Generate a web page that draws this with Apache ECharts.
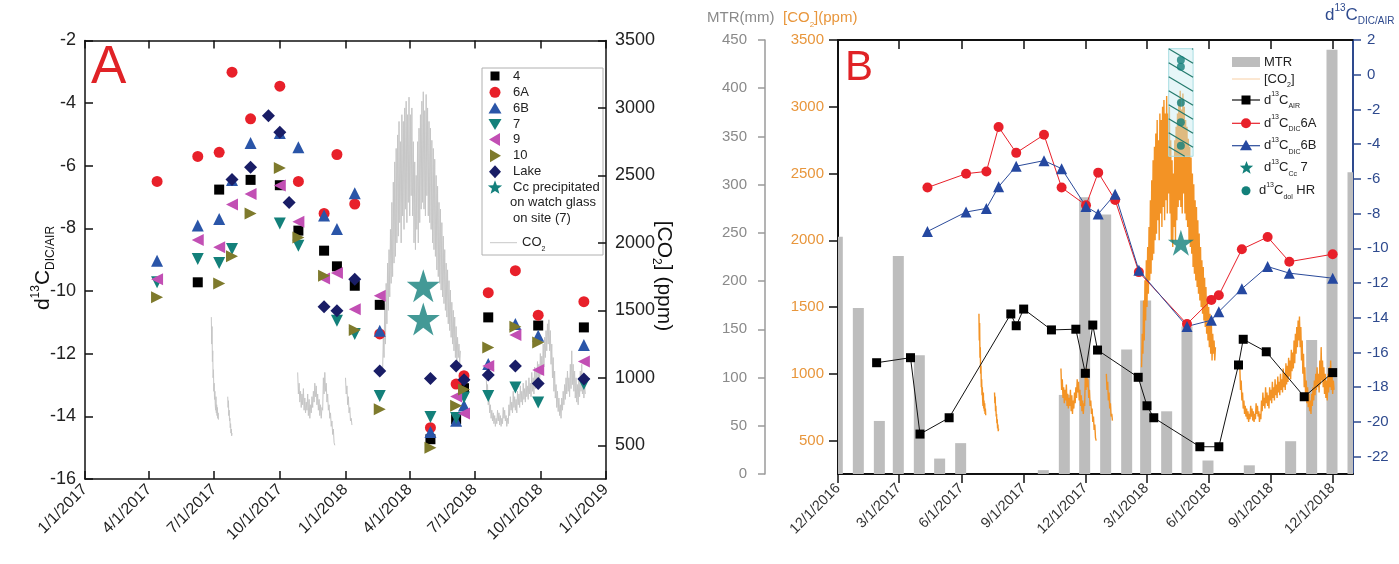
<!DOCTYPE html>
<html><head><meta charset="utf-8">
<script src="https://cdn.jsdelivr.net/npm/echarts@6/dist/echarts.min.js"></script>
<style>html,body{margin:0;padding:0;background:#fff}#c{width:1399px;height:564px}</style>
</head><body><div id="c"></div>
<script>
// ---------------- DATA ----------------
const ticksA = ['2017-01-01','2017-04-01','2017-07-01','2017-10-01','2018-01-01','2018-04-01','2018-07-01','2018-10-01','2019-01-01'];
const ticksB = ['2016-12-01','2017-03-01','2017-06-01','2017-09-01','2017-12-01','2018-03-01','2018-06-01','2018-09-01','2018-12-01'];
const ticksCO2 = [500,1000,1500,2000,2500,3000,3500];
const ticksD13B = [-22,-20,-18,-16,-14,-12,-10,-8,-6,-4,-2,0,2];

const sampleDates = ['2017-04-12','2017-06-08','2017-07-08','2017-07-26','2017-08-21','2017-09-15','2017-10-01','2017-10-14','2017-10-27','2017-12-02','2017-12-20','2018-01-14','2018-02-18','2018-04-30','2018-06-05','2018-06-16','2018-07-20','2018-08-27','2018-09-28','2018-12-01'];
const site4   = [null,-9.72,-6.76,null,-6.45,null,-6.62,null,-8.07,-8.71,-9.21,-9.83,-10.44,-14.73,-14.09,-13.1,-10.84,null,-11.1,-11.16];
const site6A  = [-6.5,-5.7,-5.57,-3.01,-4.5,null,-3.46,null,-6.5,-7.52,-5.64,-7.22,-11.37,-14.36,-12.97,-12.7,-10.05,-9.35,-10.77,-10.34];
const site6B  = [-9.03,-7.91,-7.7,-6.45,-5.27,null,-4.95,null,-5.41,-7.59,-8.02,-6.88,-11.27,-14.5,-14.14,-13.65,-12.33,-11.05,-11.43,-11.72];
const site7   = [-9.72,-8.98,-9.1,-8.66,null,null,-7.84,null,-8.55,null,-10.95,-11.37,-13.35,-14.02,-14.05,-13.4,-13.35,-13.08,-13.56,-12.97];
const site9   = [-9.62,-8.37,-8.6,-7.24,-6.9,null,-6.63,null,-7.79,-9.6,-9.42,-10.58,-10.15,null,-13.37,-13.91,-12.39,-11.4,-12.52,-12.25];
const site10  = [-10.2,null,-9.76,-8.89,-7.52,null,-6.07,null,-8.29,-9.51,null,-11.24,-13.77,-15.0,-13.66,-13.14,-11.8,-11.14,-11.64,null];
const siteLake= [null,null,null,-6.44,-6.05,-4.4,-4.93,-7.17,null,-10.5,-10.63,-9.62,-12.55,-12.79,-12.39,-12.83,-12.68,-12.39,-12.95,-12.81];
const ccStarDatesA = ['2018-04-20','2018-04-20'];
const ccStarA = [-9.83,-10.89];

const airDates = ['2017-01-27','2017-03-18','2017-04-01','2017-05-14','2017-08-13','2017-08-21','2017-09-01','2017-10-12','2017-11-17','2017-12-01','2017-12-12','2017-12-19','2018-02-17','2018-03-02','2018-03-12','2018-05-19','2018-06-16','2018-07-15','2018-07-22','2018-08-25','2018-10-20','2018-12-01'];
const airVals  = [-16.59,-16.3,-20.7,-19.76,-13.78,-14.46,-13.5,-14.7,-14.66,-17.2,-14.42,-15.86,-17.43,-19.07,-19.76,-21.43,-21.43,-16.72,-15.24,-15.96,-18.55,-17.16];
const mtrDates = ['2016-11-30','2016-12-31','2017-01-31','2017-02-28','2017-03-31','2017-04-30','2017-05-31','2017-06-30','2017-07-31','2017-08-31','2017-09-30','2017-10-31','2017-11-30','2017-12-31','2018-01-31','2018-02-28','2018-03-31','2018-04-30','2018-05-31','2018-06-30','2018-07-31','2018-08-31','2018-09-30','2018-10-31','2018-11-30','2018-12-31'];
const mtrVals  = [246,172,55,226,123,16,32,0,0,0,4,82,287,269,129,180,65,153,14,0,9,0,34,139,440,313];
const ccStarDatesB = ['2018-04-21'];
const ccStarB = [-9.68];
const dolDates = ['2018-04-21','2018-04-21','2018-04-21','2018-04-21','2018-04-21'];
const dolVals  = [0.85,0.46,-1.61,-2.74,-4.09];
const dolRangeDates = ['2018-04-03','2018-05-09'];
const dolRangeVals  = [1.5,-4.7];

const co2S1Start = '2017-06-27', co2S1Step = 12;
const co2S1 = [1450,1250,1380,1120,1200,1000,1060,900,960,840,900,800,760,860,740,800,720,780,700,740,690];
const co2S2Start = '2017-07-20', co2S2Step = 12;
const co2S2 = [860,780,830,720,760,680,700,630,660,590,620,570,590];
const co2S3Start = '2017-10-26', co2S3Step = 24;
const co2S3 = [1040,880,960,820,900,780,880,800,920,760,850,740,820,760,880,720,840,700,800,740,860,780,900,820,960,860,940,800,880,760,840,720,800,700,780,760,1000,880,1040,900,960,820,880,760,800,700,740,640,680,580,620,520,500];
const co2S4Start = '2018-01-01', co2S4Step = 24;
const co2S4 = [1000,880,940,800,860,740,780,680,700,650];
const co2S5Start = '2018-02-22', co2S5Step = 24;
const co2S5 = [1050,1300,1150,1550,1250,1700,1400,1850,1500,1950,
 1600,2100,1700,2300,1750,2450,1850,2600,1900,2700,
 2000,2800,2050,2900,2150,2750,2000,2950,2200,2900,
 2100,3000,2250,3050,2150,2950,2300,3080,2200,2950,
 2350,3000,2200,2750,2000,2600,1950,2500,2100,2750,
 2000,2850,2150,2950,2250,3050,2300,3120,2250,2980,
 2200,3100,2350,3000,2200,2900,2150,2850,2100,2760,
 2000,2700,1950,2620,1900,2500,1800,2420,1750,2300,
 1700,2250,1650,2150,1600,2050,1550,1950,1500,1850,
 1450,1800,1400,1720,1350,1650,1300,1560,1250,1500,
 1200,1450,1150,1380,1100,1300,1150,1250,1100,1200];
const co2S6Start = '2018-07-17', co2S6Step = 24;
const co2S6 = [1050,880,950,800,860,740,800,700,760,680,
 740,660,720,640,700,660,760,680,740,650,
 720,640,700,660,780,700,760,680,720,640,
 700,660,800,720,860,760,820,740,900,780,
 860,760,840,740,900,800,880,780,940,820,
 900,800,960,840,920,820,980,860,940,840,
 1000,880,960,860,1040,900,1000,880,1080,920,
 1060,940,1120,980,1100,960,1180,1020,1160,1040,
 1250,1080,1300,1150,1350,1200,1400,1250,1430,1200,
 1350,1100,1250,1000,1150,900,1050,850,950,780,
 900,750,850,720,800,700,850,760,900,800,
 950,840,1000,880,1050,900,1000,860,1100,920,
 1200,950,1100,900,1050,850,1000,820,950,800,
 1000,860,1050,900,1100,880,1000,850,950,880];

// ---------------- HELPERS ----------------
const FONT = '"Liberation Sans", Arial, sans-serif';
function T(s){const p=s.split('-').map(Number);return Date.UTC(p[0],p[1]-1,p[2]);}
function fmt(t){const d=new Date(t);return (d.getUTCMonth()+1)+'/'+d.getUTCDate()+'/'+d.getUTCFullYear();}
function pairs(dates, vals){const out=[];dates.forEach((d,i)=>{if(vals[i]!=null)out.push([T(d),vals[i]]);});return out;}
function seg(start, stepH, vals){const t0=T(start);return vals.map((v,i)=>[t0+i*stepH*3600000,v]);}
const co2Segs = [[co2S1Start,co2S1Step,co2S1],[co2S2Start,co2S2Step,co2S2],[co2S3Start,co2S3Step,co2S3],[co2S4Start,co2S4Step,co2S4],[co2S5Start,co2S5Step,co2S5],[co2S6Start,co2S6Step,co2S6]];
const STAR = 'path://M50,0 L61.2,34.5 L97.6,34.5 L68.2,55.9 L79.4,90.5 L50,69.1 L20.6,90.5 L31.8,55.9 L2.4,34.5 L38.8,34.5 Z';
function starPts(cx,cy,R){const pts=[];for(let i=0;i<10;i++){const r=i%2?R*0.42:R;const a=-Math.PI/2+i*Math.PI/5;pts.push([cx+r*Math.cos(a),cy+r*Math.sin(a)]);}return pts;}

const tA = ticksA.map(T), tB = ticksB.map(T);
const C = echarts.init(document.getElementById('c'));

const series = [];
co2Segs.forEach(s=>series.push({type:'line',xAxisIndex:0,yAxisIndex:1,data:seg(s[0],s[1],s[2]),showSymbol:false,silent:true,lineStyle:{color:'#c6c6c6',width:1},z:1}));
const sA = [
  ['4',site4,'rect',10,0,'#000000'],
  ['6A',site6A,'circle',11,0,'#e8202a'],
  ['6B',site6B,'triangle',12,0,'#2a55a8'],
  ['7',site7,'triangle',12,180,'#13807a'],
  ['9',site9,'triangle',12,90,'#c24fb4'],
  ['10',site10,'triangle',12,-90,'#7e7a2c'],
  ['Lake',siteLake,'diamond',13,0,'#191d66']
];
sA.forEach(s=>series.push({type:'scatter',name:s[0],xAxisIndex:0,yAxisIndex:0,data:pairs(sampleDates,s[1]),symbol:s[2],symbolSize:s[3],symbolRotate:s[4],itemStyle:{color:s[5],opacity:1},z:3}));
series.push({type:'scatter',xAxisIndex:0,yAxisIndex:0,data:pairs(ccStarDatesA,ccStarA),symbol:STAR,symbolSize:33,itemStyle:{color:'#14807c'},z:3});

series.push({type:'custom',xAxisIndex:2,yAxisIndex:2,z:1,silent:true,data:pairs(mtrDates,mtrVals),
  renderItem:function(params,api){
    const top=api.coord([api.value(0),api.value(1)]), base=api.coord([api.value(0),0]);
    const cs=params.coordSys;
    const x0=Math.max(top[0]-5.5,cs.x), x1=Math.min(top[0]+5.5,cs.x+cs.width);
    if(x1<=x0||base[1]-top[1]<=0) return null;
    return {type:'rect',shape:{x:x0,y:top[1],width:x1-x0,height:base[1]-top[1]},style:{fill:'#bdbdbd'}};
  }});
co2Segs.forEach(s=>series.push({type:'line',xAxisIndex:2,yAxisIndex:3,data:seg(s[0],s[1],s[2]),showSymbol:false,silent:true,lineStyle:{color:'#f39325',width:1.4},z:2}));
series.push({type:'custom',xAxisIndex:2,yAxisIndex:4,z:3,silent:true,
  data:[[T(dolRangeDates[0]),dolRangeVals[0],T(dolRangeDates[1]),dolRangeVals[1]]],
  renderItem:function(params,api){
    const p1=api.coord([api.value(0),api.value(1)]), p2=api.coord([api.value(2),api.value(3)]);
    const x0=p1[0],y0=p1[1],x1=p2[0],y1=p2[1],w=x1-x0,h=y1-y0;
    const ch=[{type:'rect',shape:{x:x0,y:y0,width:w,height:h},style:{fill:'rgba(200,236,240,0.45)',stroke:'#a9dde2',lineWidth:1}}];
    const slope=0.6, sp=14;
    for(let k=-Math.ceil(slope*w/sp)-1;k<=Math.ceil(h/sp)+1;k++){
      let ya=y0+k*sp, xa=x0, xb=x1, yb=ya+slope*w;
      if(ya<y0){xa=x0+(y0-ya)/slope;ya=y0;}
      if(yb>y1){xb=x0+(y1-(y0+k*sp))/slope;yb=y1;}
      if(xa>=xb||ya>y1||yb<y0)continue;
      ch.push({type:'line',shape:{x1:xa,y1:ya,x2:xb,y2:yb},style:{stroke:'#237a6c',lineWidth:1.2}});
    }
    return {type:'group',children:ch};
  }});
series.push({type:'line',xAxisIndex:2,yAxisIndex:4,data:pairs(airDates,airVals),symbol:'rect',symbolSize:9,lineStyle:{color:'#111',width:1},itemStyle:{color:'#000'},z:4});
series.push({type:'line',xAxisIndex:2,yAxisIndex:4,data:pairs(sampleDates,site6A),symbol:'circle',symbolSize:10,lineStyle:{color:'#e8202a',width:1},itemStyle:{color:'#e8202a'},z:4});
series.push({type:'line',xAxisIndex:2,yAxisIndex:4,data:pairs(sampleDates,site6B),symbol:'triangle',symbolSize:11,lineStyle:{color:'#2a4a9a',width:1},itemStyle:{color:'#2548a0'},z:4});
series.push({type:'scatter',xAxisIndex:2,yAxisIndex:4,data:pairs(ccStarDatesB,ccStarB),symbol:STAR,symbolSize:26,itemStyle:{color:'#13807a'},z:5});
series.push({type:'scatter',xAxisIndex:2,yAxisIndex:4,data:pairs(dolDates,dolVals),symbol:'circle',symbolSize:8,itemStyle:{color:'#13807a'},z:5});

const blk='#111';
const axLine=(c,w)=>({show:true,onZero:false,lineStyle:{color:c,width:w||1.5}});
const plain=v=>String(v);
const option = {
  animation:false,
  backgroundColor:'#fff',
  textStyle:{fontFamily:FONT},
  grid:[{left:85,top:40.5,width:521,height:438.5},{left:838,top:40,width:515,height:434}],
  xAxis:[
    {type:'value',gridIndex:0,min:T('2017-01-01'),max:T('2019-01-01'),position:'bottom',splitLine:{show:false},axisLine:axLine(blk),
     axisTick:{inside:true,length:8,lineStyle:{color:blk,width:1.5},customValues:tA},
     axisLabel:{rotate:45,fontSize:16,color:'#222',margin:8,customValues:tA,formatter:v=>fmt(v)}},
    {type:'value',gridIndex:0,min:T('2017-01-01'),max:T('2019-01-01'),position:'top',splitLine:{show:false},axisLine:axLine(blk),
     axisTick:{inside:true,length:8,lineStyle:{color:blk,width:1.5},customValues:tA},axisLabel:{show:false}},
    {type:'value',gridIndex:1,min:T('2016-12-01'),max:T('2018-12-31'),position:'bottom',splitLine:{show:false},axisLine:axLine(blk,2),
     axisTick:{inside:false,length:9,lineStyle:{color:blk,width:1.5},customValues:tB},
     axisLabel:{rotate:45,fontSize:14.5,color:'#333',margin:12,customValues:tB,formatter:v=>fmt(v)}},
    {type:'value',gridIndex:1,min:T('2016-12-01'),max:T('2018-12-31'),position:'top',splitLine:{show:false},axisLine:axLine(blk,2),
     axisTick:{inside:true,length:9,lineStyle:{color:blk,width:1.5},customValues:tB},axisLabel:{show:false}}
  ],
  yAxis:[
    {type:'value',gridIndex:0,min:-16,max:-2,interval:2,position:'left',splitLine:{show:false},axisLine:axLine(blk),
     axisTick:{inside:true,length:8,lineStyle:{color:blk,width:1.5}},axisLabel:{fontSize:18,color:'#222',margin:9,formatter:plain}},
    {type:'value',gridIndex:0,min:250,max:3500,position:'right',splitLine:{show:false},axisLine:axLine(blk),
     axisTick:{inside:true,length:8,lineStyle:{color:blk,width:1.5},customValues:ticksCO2},axisLabel:{fontSize:18,color:'#222',margin:9,customValues:ticksCO2,formatter:plain}},
    {type:'value',gridIndex:1,min:0,max:450,interval:50,position:'left',offset:73,splitLine:{show:false},axisLine:axLine('#9a9a9a'),
     axisTick:{inside:false,length:7,lineStyle:{color:'#9a9a9a',width:1.5}},axisLabel:{fontSize:15,color:'#8a8a8a',margin:18,formatter:plain}},
    {type:'value',gridIndex:1,min:250,max:3500,position:'left',offset:0,splitLine:{show:false},axisLine:axLine(blk,2),
     axisTick:{inside:false,length:9,lineStyle:{color:blk,width:1.5},customValues:ticksCO2},axisLabel:{fontSize:15,color:'#e8963c',margin:14,customValues:ticksCO2,formatter:plain}},
    {type:'value',gridIndex:1,min:-23,max:2,position:'right',splitLine:{show:false},axisLine:axLine('#2e4a8e',2),
     axisTick:{inside:false,length:8,lineStyle:{color:'#2e4a8e',width:1.5},customValues:ticksD13B},axisLabel:{fontSize:15,color:'#2e4a8e',margin:14,customValues:ticksD13B,formatter:plain}}
  ],
  series:series,
  graphic:[]
};

const g = option.graphic;
const txt=(x,y,text,opt)=>({type:'text',x:x,y:y,silent:true,style:Object.assign({text:text,fontFamily:FONT,fontSize:13,fill:'#222',align:'left',verticalAlign:'middle'},opt||{})});
g.push(txt(91,68,'A',{fontSize:53,fill:'#e02226'}));
g.push(txt(845,68,'B',{fontSize:42,fill:'#e02226'}));
const richD = (fs,col,sr)=>{const s=Math.round(fs*(sr||0.55));return {n:{fontSize:fs,fill:col,fontFamily:FONT,lineHeight:fs+6,verticalAlign:'middle'},sup:{fontSize:s,fill:col,fontFamily:FONT,verticalAlign:'top',lineHeight:s},sub:{fontSize:s,fill:col,fontFamily:FONT,verticalAlign:'bottom',lineHeight:s}};};
g.push({type:'text',x:43,y:268,rotation:Math.PI/2,silent:true,style:{text:'{n|d}{sup|13}{n|C}{sub|DIC/AIR}',rich:richD(21,'#111'),align:'center',verticalAlign:'middle'}});
g.push({type:'text',x:664,y:276,rotation:-Math.PI/2,silent:true,style:{text:'{n|[CO}{sub|2}{n|] (ppm)}',rich:richD(21,'#111'),align:'center',verticalAlign:'middle'}});
g.push(txt(707,18,'MTR(mm)',{fontSize:15,fill:'#8a8a8a'}));
g.push({type:'text',x:783,y:18,silent:true,style:{text:'{n|[CO}{sub|2}{n|](ppm)}',rich:richD(15,'#e8963c'),align:'left',verticalAlign:'middle'}});
g.push({type:'text',x:1325,y:15,silent:true,style:{text:'{n|d}{sup|13}{n|C}{sub|DIC/AIR}',rich:richD(17,'#2e4a8e',0.6),align:'left',verticalAlign:'middle'}});

// Panel A legend
g.push({type:'rect',silent:true,shape:{x:482,y:68,width:121,height:187},style:{fill:'#fff',stroke:'#b0b0b0',lineWidth:1}});
const lx=495, ltx=513;
const ly=[76,92.3,108.5,124,139.5,155.8,171.7,187.3];
g.push({type:'rect',silent:true,shape:{x:lx-4.5,y:ly[0]-4.5,width:9,height:9},style:{fill:'#000'}});
g.push({type:'circle',silent:true,shape:{cx:lx,cy:ly[1],r:5.5},style:{fill:'#e8202a'}});
g.push({type:'polygon',silent:true,shape:{points:[[lx,ly[2]-6],[lx+6.5,ly[2]+5],[lx-6.5,ly[2]+5]]},style:{fill:'#2a55a8'}});
g.push({type:'polygon',silent:true,shape:{points:[[lx-6.5,ly[3]-5],[lx+6.5,ly[3]-5],[lx,ly[3]+6]]},style:{fill:'#13807a'}});
g.push({type:'polygon',silent:true,shape:{points:[[lx-6,ly[4]],[lx+5,ly[4]-6.5],[lx+5,ly[4]+6.5]]},style:{fill:'#c24fb4'}});
g.push({type:'polygon',silent:true,shape:{points:[[lx+6,ly[5]],[lx-5,ly[5]-6.5],[lx-5,ly[5]+6.5]]},style:{fill:'#7e7a2c'}});
g.push({type:'polygon',silent:true,shape:{points:[[lx,ly[6]-6.5],[lx+6,ly[6]],[lx,ly[6]+6.5],[lx-6,ly[6]]]},style:{fill:'#191d66'}});
g.push({type:'polygon',silent:true,shape:{points:starPts(lx,ly[7]+0.5,7.5)},style:{fill:'#14807c'}});
['4','6A','6B','7','9','10','Lake','Cc precipitated'].forEach((t,i)=>g.push(txt(ltx,ly[i],t,{fontSize:13})));
g.push(txt(510,202.7,'on watch glass',{fontSize:13}));
g.push(txt(513,218.3,'on site (7)',{fontSize:13}));
g.push({type:'line',silent:true,shape:{x1:490,y1:242.7,x2:517,y2:242.7},style:{stroke:'#c8c8c8',lineWidth:1}});
g.push({type:'text',x:522,y:242.7,silent:true,style:{text:'{n|CO}{sub|2}',rich:richD(13,'#222'),align:'left',verticalAlign:'middle'}});

// Panel B legend
const bx1=1232,bx2=1260,bxm=1246,btx=1264;
g.push({type:'rect',silent:true,shape:{x:bx1,y:57,width:28,height:10},style:{fill:'#bdbdbd'}});
g.push(txt(btx,62,'MTR',{fontSize:13}));
g.push({type:'line',silent:true,shape:{x1:bx1,y1:79,x2:bx2,y2:79},style:{stroke:'#f8cfa4',lineWidth:1}});
g.push({type:'text',x:btx,y:79,silent:true,style:{text:'{n|[CO}{sub|2}{n|]}',rich:richD(13,'#222'),align:'left',verticalAlign:'middle'}});
const bl=[[100,'#111','AIR',''],[123.3,'#e8202a','DIC','6A'],[145.7,'#2a4a9a','DIC','6B']];
bl.forEach(b=>{
  g.push({type:'line',silent:true,shape:{x1:bx1,y1:b[0],x2:bx2,y2:b[0]},style:{stroke:b[1],lineWidth:1.2}});
  g.push({type:'text',x:btx,y:b[0],silent:true,style:{text:'{n|d}{sup|13}{n|C}{sub|'+b[2]+'}'+(b[3]?'{n|'+b[3]+'}':''),rich:richD(13,'#222'),align:'left',verticalAlign:'middle'}});
});
g.push({type:'rect',silent:true,shape:{x:bxm-4.5,y:100-4.5,width:9,height:9},style:{fill:'#000'}});
g.push({type:'circle',silent:true,shape:{cx:bxm,cy:123.3,r:5},style:{fill:'#e8202a'}});
g.push({type:'polygon',silent:true,shape:{points:[[bxm,145.7-6],[bxm+6,145.7+4.5],[bxm-6,145.7+4.5]]},style:{fill:'#2548a0'}});
g.push({type:'polygon',silent:true,shape:{points:starPts(bxm+0.5,168,7)},style:{fill:'#13807a'}});
g.push({type:'text',x:btx,y:167.7,silent:true,style:{text:'{n|d}{sup|13}{n|C}{sub|Cc}{n| 7}',rich:richD(13,'#222'),align:'left',verticalAlign:'middle'}});
g.push({type:'circle',silent:true,shape:{cx:bxm,cy:190.7,r:4.5},style:{fill:'#13807a'}});
g.push({type:'text',x:1259,y:190.7,silent:true,style:{text:'{n|d}{sup|13}{n|C}{sub|dol}{n| HR}',rich:richD(13,'#222'),align:'left',verticalAlign:'middle'}});

C.setOption(option);
</script></body></html>
